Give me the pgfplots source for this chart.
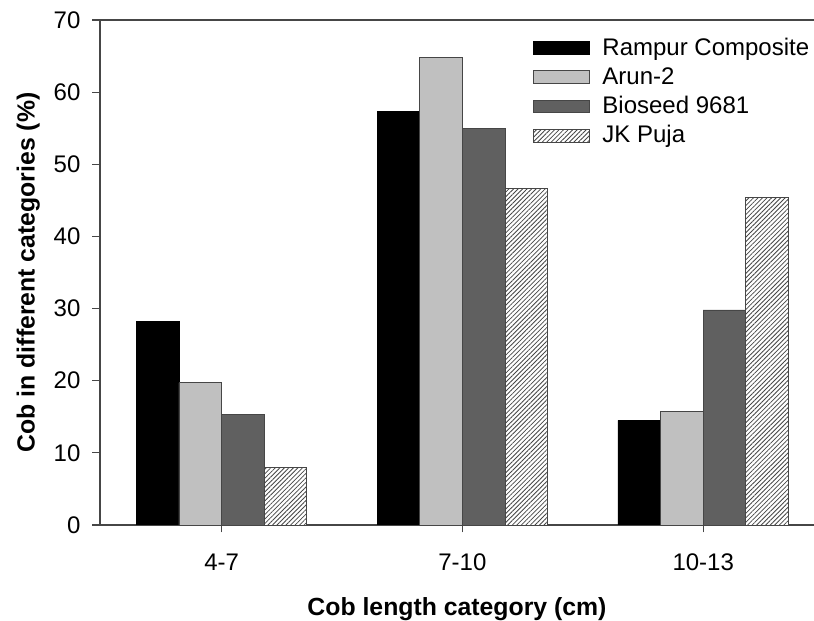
\documentclass[border=0pt]{standalone}
\usepackage{pgfplots}
\pgfplotsset{compat=1.18}
\usetikzlibrary{patterns.meta}
\usepackage{fontspec}
\setmainfont{Liberation Sans}

\definecolor{edge}{RGB}{70,70,70}
\definecolor{lightbar}{RGB}{192,192,192}
\definecolor{darkbar}{RGB}{96,96,96}

\begin{document}
\begin{tikzpicture}
\begin{axis}[
    scale only axis,
    width=357pt, height=252.5pt,
    axis x line=box, axis y line=left,
    y axis line style={-},
    axis line style={edge, line width=0.6pt},
    tick style={edge, line width=0.6pt},
    tick align=outside,
    major tick length=3.75pt,
    xtick pos=bottom, ytick pos=left,
    xmin=-0.505, xmax=2.46,
    ymin=0, ymax=70,
    ytick={0,10,...,70},
    xtick={0,1,2},
    xticklabels={4-7, 7-10, 10-13},
    /pgf/number format/assume math mode=true,
    tick label style={font=\fontsize{12}{14}\selectfont},
    yticklabel style={xshift=-2.5pt},
    xticklabel style={yshift=-7pt},
    xlabel={\textbf{Cob length category (cm)}},
    ylabel={\textbf{Cob in different categories (\%)}},
    label style={font=\fontsize{12.4}{15}\selectfont},
    xlabel style={yshift=-6.5pt},
    ybar, bar width=0.177,
    legend style={draw=none, fill=none, at={(0.597,0.981)}, anchor=north west,
        font=\fontsize{12}{14}\selectfont, row sep=0.5pt,
        /tikz/every odd column/.append style={column sep=4.5pt}},
    legend cell align=left,
    legend image code/.code={\draw[#1] (0pt,-3.2pt) rectangle (28pt,3.2pt);},
]
\addplot[fill=black, draw=black, bar shift=-0.2655] coordinates {(0,28.2) (1,57.3) (2,14.5)};
\addplot[fill=lightbar, draw=edge, bar shift=-0.0885] coordinates {(0,19.7) (1,64.8) (2,15.7)};
\addplot[fill=darkbar, draw=edge, bar shift=0.0885] coordinates {(0,15.3) (1,55.0) (2,29.8)};
\addplot[fill=white, draw=edge, bar shift=0.2655,
    postaction={pattern={Lines[angle=45,distance=1.6pt,line width=0.4pt]}, pattern color=edge}]
    coordinates {(0,8.0) (1,46.6) (2,45.4)};
\legend{Rampur Composite, Arun-2, Bioseed 9681, JK Puja}
\end{axis}
\pgfresetboundingbox
\path[use as bounding box] ([xshift=-50pt,yshift=-48pt]current axis.south west)
    rectangle ([yshift=10pt]current axis.north east);
\end{tikzpicture}
\end{document}
